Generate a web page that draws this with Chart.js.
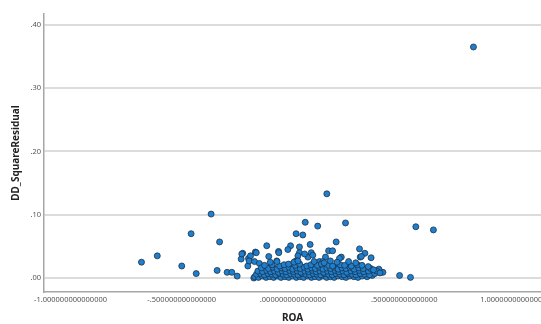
<!DOCTYPE html>
<html>
<head>
<meta charset="utf-8">
<script src="https://cdn.jsdelivr.net/npm/chart.js@4.4.1/dist/chart.umd.min.js"></script>
<style>
  html, body { margin: 0; padding: 0; background: #fff; }
</style>
</head>
<body>
<canvas id="scatter" width="541" height="324"></canvas>
<script>
// ROA vs squared DD residual, [roa, ddSquareResidual]
const farPoints = [
  [0.811, 0.365], [-0.368, 0.101], [-0.458, 0.070], [-0.330, 0.057], [-0.681, 0.025],
  [-0.610, 0.035], [-0.500, 0.019], [-0.435, 0.007], [-0.341, 0.012], [-0.296, 0.009],
  [-0.275, 0.009], [-0.251, 0.003], [0.552, 0.081], [0.631, 0.076], [0.479, 0.004],
  [0.528, 0.001]
];

const midPoints = [
  [0.152, 0.133], [0.055, 0.088], [0.111, 0.082], [0.236, 0.087], [0.014, 0.070],
  [0.044, 0.068], [-0.118, 0.051], [-0.011, 0.051], [-0.023, 0.045], [0.077, 0.053],
  [0.194, 0.057], [0.029, 0.049], [-0.065, 0.042], [-0.169, 0.041], [-0.226, 0.039],
  [-0.233, 0.030], [-0.200, 0.031], [-0.203, 0.019], [-0.109, 0.034], [0.160, 0.043],
  [0.178, 0.043], [0.217, 0.033], [0.029, 0.040], [0.022, 0.035], [0.011, 0.026],
  [0.067, 0.033], [0.082, 0.040], [-0.191, 0.035], [-0.197, 0.027], [-0.173, 0.026],
  [-0.151, 0.023], [-0.073, 0.027], [-0.098, 0.022], [0.119, 0.026], [0.146, 0.033],
  [0.134, 0.026], [0.299, 0.046], [0.323, 0.039], [0.351, 0.032], [0.302, 0.033],
  [0.404, 0.009], [0.386, 0.014], [0.374, 0.011], [0.344, 0.015], [0.089, 0.036],
  [0.209, 0.031], [0.307, 0.034], [-0.230, 0.038], [-0.165, 0.040], [-0.064, 0.040],
  [0.052, 0.038], [0.014, 0.027], [-0.176, 0.000]
];

const densePoints = [
  [-0.172, 0.002], [-0.155, 0.001], [-0.138, 0.003], [-0.121, 0.001], [-0.104, 0.002],
  [-0.087, 0.001], [-0.071, 0.003], [-0.054, 0.001], [-0.036, 0.002], [-0.019, 0.001],
  [-0.002, 0.003], [0.015, 0.001], [0.031, 0.002], [0.048, 0.001], [0.066, 0.003],
  [0.083, 0.001], [0.099, 0.002], [0.117, 0.001], [0.134, 0.003], [0.151, 0.001],
  [0.168, 0.002], [0.185, 0.001], [0.203, 0.003], [0.221, 0.002], [0.238, 0.001],
  [0.256, 0.003], [0.274, 0.002], [0.292, 0.001], [0.311, 0.003], [0.333, 0.002],
  [0.356, 0.004],

  [-0.164, 0.006], [-0.146, 0.007], [-0.129, 0.005], [-0.112, 0.007], [-0.095, 0.006],
  [-0.078, 0.005], [-0.062, 0.007], [-0.045, 0.006], [-0.028, 0.005], [-0.011, 0.007],
  [0.006, 0.006], [0.023, 0.005], [0.040, 0.007], [0.057, 0.006], [0.074, 0.005],
  [0.091, 0.007], [0.108, 0.006], [0.125, 0.005], [0.142, 0.007], [0.159, 0.006],
  [0.176, 0.005], [0.193, 0.007], [0.211, 0.006], [0.229, 0.005], [0.247, 0.007],
  [0.265, 0.006], [0.283, 0.005], [0.302, 0.007], [0.322, 0.006], [0.344, 0.005],
  [0.368, 0.007],

  [-0.158, 0.011], [-0.137, 0.010], [-0.118, 0.012], [-0.100, 0.010], [-0.083, 0.011],
  [-0.066, 0.009], [-0.049, 0.011], [-0.032, 0.010], [-0.015, 0.012], [0.002, 0.010],
  [0.019, 0.011], [0.036, 0.009], [0.053, 0.011], [0.070, 0.010], [0.087, 0.012],
  [0.104, 0.010], [0.121, 0.011], [0.138, 0.009], [0.155, 0.011], [0.172, 0.010],
  [0.189, 0.012], [0.206, 0.010], [0.224, 0.011], [0.242, 0.009], [0.261, 0.011],
  [0.279, 0.010], [0.298, 0.012], [0.318, 0.010], [0.339, 0.011], [0.376, 0.011],
  [0.391, 0.008],

  [-0.142, 0.016], [-0.110, 0.015], [-0.090, 0.017], [-0.071, 0.014], [-0.052, 0.016],
  [-0.035, 0.015], [-0.018, 0.017], [-0.001, 0.014], [0.016, 0.016], [0.033, 0.015],
  [0.050, 0.017], [0.067, 0.014], [0.084, 0.016], [0.101, 0.015], [0.118, 0.017],
  [0.135, 0.014], [0.152, 0.016], [0.169, 0.015], [0.186, 0.017], [0.203, 0.014],
  [0.220, 0.016], [0.238, 0.015], [0.256, 0.017], [0.275, 0.014], [0.295, 0.016],
  [0.316, 0.015], [0.349, 0.015], [0.362, 0.013],

  [-0.128, 0.020], [-0.094, 0.021], [-0.060, 0.019], [-0.040, 0.021], [-0.020, 0.022],
  [0.010, 0.020], [0.030, 0.022], [0.062, 0.019], [0.081, 0.021], [0.110, 0.020],
  [0.128, 0.022], [0.160, 0.020], [0.178, 0.019], [0.212, 0.021], [0.232, 0.020],
  [0.262, 0.019], [0.290, 0.021], [0.310, 0.020], [0.338, 0.018],

  [-0.102, 0.025], [-0.072, 0.026], [0.004, 0.025], [0.022, 0.027], [0.095, 0.026],
  [0.140, 0.024], [0.168, 0.027], [0.198, 0.025], [0.250, 0.026], [0.282, 0.024]
];

const xTickValues = [-1, -0.5, 0, 0.5, 1];
const yTickValues = [0, 0.1, 0.2, 0.3, 0.4];

// SPSS style: drop the leading zero (".40", "-.500000000000000")
function spssNum(v, digits) {
  return v.toFixed(digits).replace(/^(-?)0\./, '$1.');
}

const allPoints = farPoints.concat(midPoints, densePoints).map(p => ({ x: p[0], y: p[1] }));

const tickFont = { family: 'Noto Sans', size: 7.5 };
const titleFont = { family: 'Noto Sans', size: 10, weight: 'bold' };

new Chart(document.getElementById('scatter'), {
  type: 'scatter',
  data: {
    datasets: [{
      data: allPoints,
      pointRadius: 3,
      pointHoverRadius: 3,
      backgroundColor: '#1e7fcf',
      borderColor: '#1d3247',
      borderWidth: 0.8
    }]
  },
  options: {
    responsive: false,
    animation: false,
    devicePixelRatio: 1,
    layout: { autoPadding: false, padding: { top: 14, left: 0, right: 0, bottom: 0 } },
    plugins: { legend: { display: false }, tooltip: { enabled: false } },
    scales: {
      x: {
        type: 'linear',
        min: -1.1191,
        max: 1.1146,
        afterBuildTicks: s => { s.ticks = xTickValues.map(v => ({ value: v })); },
        afterFit: s => { s.height = 32; s.paddingLeft = 0; s.paddingRight = 0; },
        grid: { display: false, drawTicks: false },
        border: { display: true, color: '#a6a6a6', width: 1.5 },
        ticks: {
          autoSkip: false,
          maxRotation: 0,
          padding: 3,
          color: '#555',
          font: tickFont,
          callback: v => spssNum(v, 15)
        },
        title: { display: true, text: 'ROA', color: '#222', font: titleFont, padding: { top: 0, bottom: 0 } }
      },
      y: {
        type: 'linear',
        min: -0.0221,
        max: 0.4171,
        afterBuildTicks: s => { s.ticks = yTickValues.map(v => ({ value: v })); },
        afterFit: s => { s.width = 44; s.paddingTop = 0; s.paddingBottom = 0; },
        grid: { color: '#dcdcdc', lineWidth: 2, drawTicks: false },
        border: { display: true, color: '#a6a6a6', width: 1.5 },
        ticks: {
          padding: 3,
          color: '#555',
          font: tickFont,
          callback: v => spssNum(v, 2)
        },
        title: { display: true, text: 'DD_SquareResidual', color: '#222', font: titleFont, padding: { top: 10, bottom: 0 } }
      }
    }
  }
});
</script>
</body>
</html>
